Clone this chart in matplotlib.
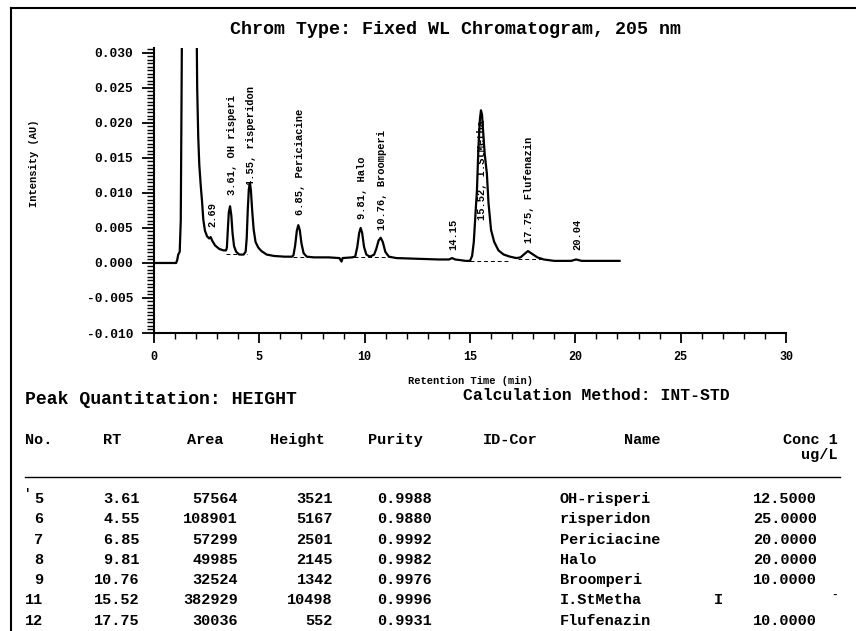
import matplotlib
matplotlib.use("Agg")
import matplotlib.pyplot as plt
from matplotlib.ticker import MultipleLocator, FormatStrFormatter
from matplotlib.lines import Line2D

MONO = "Liberation Mono"

# chromatogram trace (time in min, intensity in AU)
trace_t = [0.0, 1.05, 1.10, 1.15, 1.22, 1.27, 1.30, 1.33, 1.90, 2.02, 2.05, 2.10, 2.15,
           2.22, 2.28, 2.34, 2.42, 2.52, 2.62, 2.69, 2.76, 2.90, 3.10, 3.30, 3.42,
           3.46, 3.50, 3.55, 3.61, 3.67, 3.73, 3.80, 3.90, 4.05, 4.25,
           4.35, 4.40, 4.45, 4.50, 4.55, 4.60, 4.66, 4.73, 4.82, 4.95, 5.10, 5.35, 5.70, 6.20, 6.55,
           6.62, 6.70, 6.78, 6.85, 6.92, 7.00, 7.10, 7.25, 7.60, 8.30, 8.80, 8.90, 8.95, 9.40,
           9.55, 9.65, 9.74, 9.81, 9.88, 9.97, 10.08, 10.25, 10.45, 10.55, 10.66, 10.76, 10.86,
           10.98, 11.15, 11.50, 12.50, 13.50, 14.00, 14.15, 14.30, 14.80, 15.00,
           15.10, 15.18, 15.26, 15.33, 15.40, 15.47, 15.52, 15.57, 15.63, 15.70, 15.80, 15.88,
           16.00, 16.15, 16.35, 16.60, 16.90, 17.20, 17.40,
           17.55, 17.75, 17.95, 18.20, 18.50, 19.00, 19.80, 20.04, 20.30, 21.00, 22.10]
trace_y = [0.0, 0.0, 0.0004, 0.0012, 0.0016, 0.0060, 0.0200, 0.0350, 0.0350, 0.0350, 0.0250, 0.0180, 0.0140,
           0.0110, 0.0088, 0.0062, 0.0046, 0.0038, 0.0035, 0.0037, 0.0032, 0.0025, 0.0020, 0.0018, 0.0018,
           0.0022, 0.0045, 0.0072, 0.0081, 0.0068, 0.0042, 0.0024, 0.0016, 0.0012, 0.0012,
           0.0016, 0.0035, 0.0075, 0.0105, 0.0114, 0.0104, 0.0075, 0.0048, 0.0030, 0.0022, 0.0017, 0.0012, 0.0010, 0.0009, 0.0009,
           0.0011, 0.0025, 0.0046, 0.0054, 0.0047, 0.0028, 0.0014, 0.0009, 0.0008, 0.0008, 0.0007, 0.0002, 0.0007, 0.0008,
           0.0009, 0.0023, 0.0043, 0.0050, 0.0043, 0.0023, 0.0012, 0.0009, 0.0012, 0.0020, 0.0032, 0.0036, 0.0030,
           0.0016, 0.0009, 0.0007, 0.0006, 0.0005, 0.0005, 0.0007, 0.0005, 0.0003, 0.0003,
           0.0010, 0.0030, 0.0070, 0.0104, 0.0165, 0.0205, 0.0218, 0.0212, 0.0185, 0.0155, 0.0128, 0.0085,
           0.0047, 0.0030, 0.0018, 0.0012, 0.0009, 0.0007, 0.0008,
           0.0012, 0.0017, 0.0013, 0.0008, 0.0005, 0.0003, 0.0003, 0.0005, 0.0003, 0.0003, 0.0003]

# integration baselines (start, end, level)
base_t0 = [3.40, 6.60, 9.50, 15.00, 17.30]
base_t1 = [4.40, 7.30, 11.20, 16.80, 18.40]
base_y = [0.0013, 0.0008, 0.0008, 0.0003, 0.0006]

# peak annotations
lab_rt = [2.69, 3.61, 4.55, 6.85, 9.81, 10.76, 14.15, 15.52, 17.75, 20.04]
lab_txt = ["2.69", "3.61, OH risperi", "4.55, risperidon", "6.85, Periciacine", "9.81, Halo",
           "10.76, Broomperi", "14.15", "15.52, I.StMetha", "17.75, Flufenazin", "20.04"]
lab_y = [0.0051, 0.0097, 0.0110, 0.0068, 0.0063, 0.0047, 0.0018, 0.0061, 0.0028, 0.0018]

# peak table
nos = ["5", "6", "7", "8", "9", "11", "12"]
rts = [3.61, 4.55, 6.85, 9.81, 10.76, 15.52, 17.75]
areas = [57564, 108901, 57299, 49985, 32524, 382929, 30036]
heights = [3521, 5167, 2501, 2145, 1342, 10498, 552]
purities = [0.9988, 0.9880, 0.9992, 0.9982, 0.9976, 0.9996, 0.9931]
names = ["OH-risperi", "risperidon", "Periciacine", "Halo", "Broomperi", "I.StMetha", "Flufenazin"]
concs = ["12.5000", "25.0000", "20.0000", "20.0000", "10.0000", "", "10.0000"]

W, H = 856, 631


def fx(x):
    return x / W


def fy(y):
    return 1 - y / H


fig = plt.figure(figsize=(W / 100, H / 100), dpi=100)
ax = fig.add_axes([fx(154), fy(333), fx(786) - fx(154), fy(48) - fy(333)])

ax.plot(trace_t, trace_y, color="black", lw=1.6)
for a, b, c in zip(base_t0, base_t1, base_y):
    ax.plot([a, b], [c, c], color="black", lw=0.7, ls=(0, (4, 3)))

for rt, txt, yy in zip(lab_rt, lab_txt, lab_y):
    ax.text(rt + 0.07, yy, txt, rotation=90, ha="center", va="bottom",
            fontsize=7.5, family=MONO, weight="bold")

ax.set_xlim(0, 30)
ax.set_ylim(-0.010, 0.0307)
ax.xaxis.set_major_locator(MultipleLocator(5))
ax.xaxis.set_minor_locator(MultipleLocator(1))
ax.yaxis.set_major_locator(MultipleLocator(0.005))
ax.yaxis.set_minor_locator(MultipleLocator(0.0005))
ax.yaxis.set_major_formatter(FormatStrFormatter("%.3f"))
for s in ["top", "right"]:
    ax.spines[s].set_visible(False)
for s in ["left", "bottom"]:
    ax.spines[s].set_linewidth(1.5)
ax.tick_params(axis="y", which="major", length=9, width=1.3, pad=6, labelsize=9.3)
ax.tick_params(axis="y", which="minor", length=5, width=1.0)
ax.tick_params(axis="x", which="major", length=7, width=1.3, pad=6, labelsize=8.5)
ax.tick_params(axis="x", which="minor", length=4, width=1.0)
for lab in ax.get_xticklabels() + ax.get_yticklabels():
    lab.set_family(MONO)
    lab.set_weight("bold")

fig.text(fx(470), fy(381), "Retention Time (min)", ha="center", va="center",
         fontsize=7.5, family=MONO, weight="bold")
fig.text(fx(34), fy(163), "Intensity (AU)", ha="center", va="center", rotation=90,
         fontsize=7.5, family=MONO, weight="bold")
fig.text(fx(455), fy(29), "Chrom Type: Fixed WL Chromatogram, 205 nm", ha="center", va="center",
         fontsize=13.2, family=MONO, weight="bold")

# page frame
fig.add_artist(Line2D([fx(11), fx(11)], [fy(8), fy(631)], color="black", lw=1.5))
fig.add_artist(Line2D([fx(11), fx(856)], [fy(8), fy(8)], color="black", lw=1.5))

tk = dict(family=MONO, weight="bold", va="center")
fig.text(fx(25), fy(399), "Peak Quantitation: HEIGHT", fontsize=13.1, ha="left", **tk)
fig.text(fx(463), fy(395), "Calculation Method: INT-STD", fontsize=11.8, ha="left", **tk)

hy = 440
fig.text(fx(25), fy(hy), "No.", fontsize=11, ha="left", **tk)
fig.text(fx(112), fy(hy), "RT", fontsize=11, ha="center", **tk)
fig.text(fx(205), fy(hy), "Area", fontsize=11, ha="center", **tk)
fig.text(fx(297), fy(hy), "Height", fontsize=11, ha="center", **tk)
fig.text(fx(395), fy(hy), "Purity", fontsize=11, ha="center", **tk)
fig.text(fx(510), fy(hy), "ID-Cor", fontsize=11, ha="center", **tk)
fig.text(fx(642), fy(hy), "Name", fontsize=11, ha="center", **tk)
fig.text(fx(838), fy(hy), "Conc 1", fontsize=11, ha="right", **tk)
fig.text(fx(838), fy(455), "ug/L", fontsize=11, ha="right", **tk)
fig.add_artist(Line2D([fx(25), fx(840)], [fy(477), fy(477)], color="black", lw=1.0))

for i in range(len(nos)):
    y = fy(499 + i * 20.3)
    fig.text(fx(43), y, nos[i], fontsize=11, ha="right", **tk)
    fig.text(fx(140), y, f"{rts[i]:.2f}", fontsize=11, ha="right", **tk)
    fig.text(fx(238), y, f"{areas[i]}", fontsize=11, ha="right", **tk)
    fig.text(fx(333), y, f"{heights[i]}", fontsize=11, ha="right", **tk)
    fig.text(fx(432), y, f"{purities[i]:.4f}", fontsize=11, ha="right", **tk)
    fig.text(fx(560), y, names[i], fontsize=11, ha="left", **tk)
    fig.text(fx(817), y, concs[i], fontsize=11, ha="right", **tk)
fig.text(fx(718), fy(499 + 5 * 20.3), "I", fontsize=11, ha="center", **tk)
fig.text(fx(28), fy(494), "'", fontsize=9, ha="center", **tk)
fig.text(fx(835), fy(499 + 5 * 20.3 - 6), "-", fontsize=8, ha="center", **tk)

fig.savefig("out.png", dpi=100)
